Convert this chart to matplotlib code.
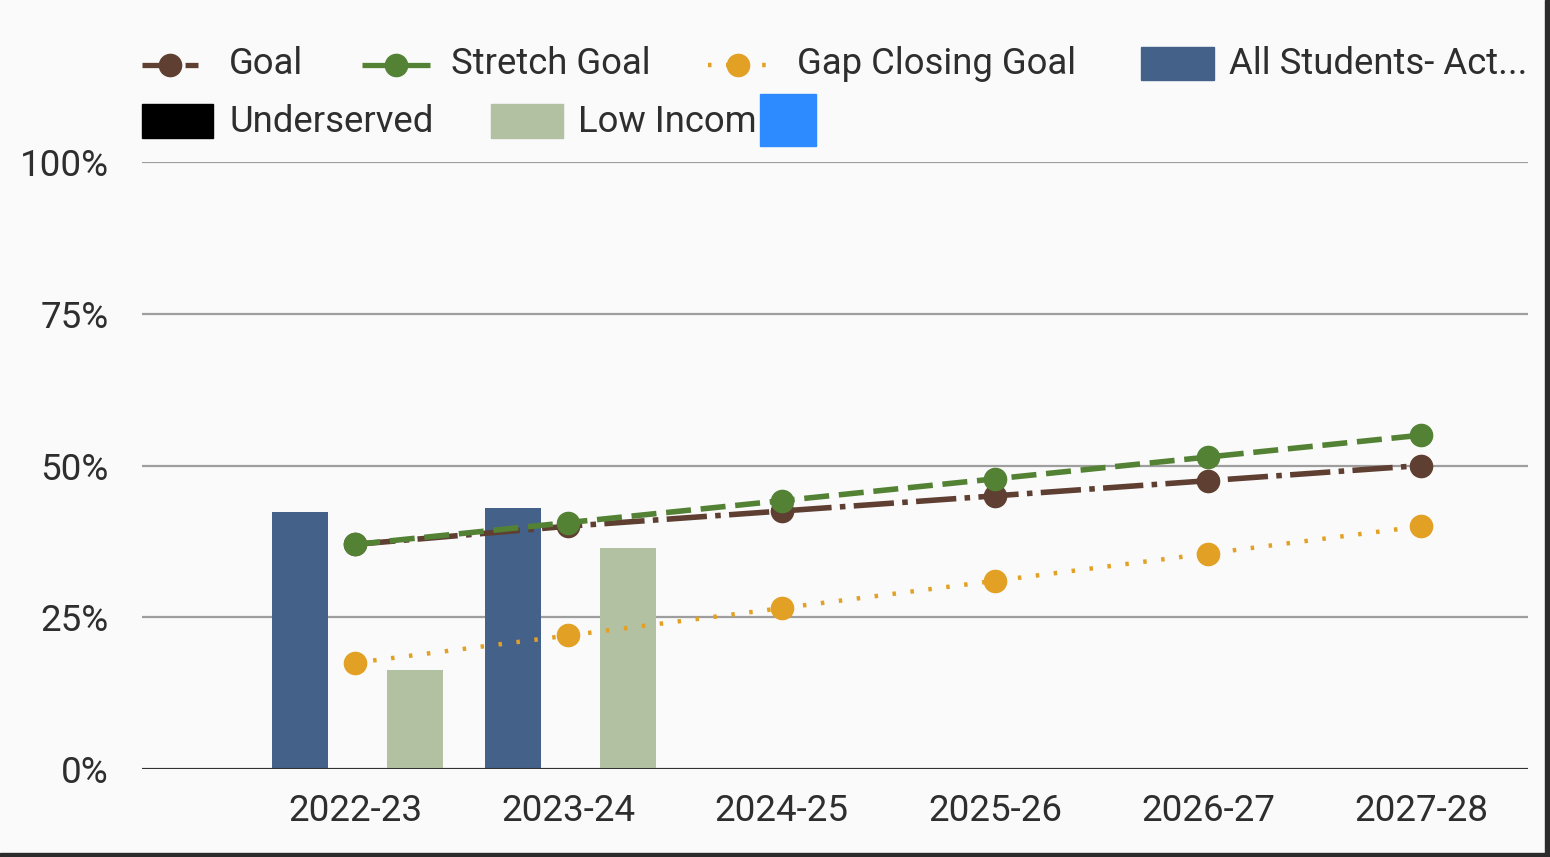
import matplotlib
matplotlib.use("Agg")
import matplotlib.pyplot as plt
from matplotlib.lines import Line2D
from matplotlib.patches import Rectangle
import numpy as np

plt.rcParams['font.family'] = ['Roboto', 'DejaVu Sans']
plt.rcParams['lines.scale_dashes'] = False

# ---- data ----
years = ["2022-23", "2023-24", "2024-25", "2025-26", "2026-27", "2027-28"]
goal = [37.0, 40.0, 42.5, 45.0, 47.5, 50.0]
stretch_goal = [37.0, 40.6, 44.2, 47.8, 51.4, 55.0]
gap_closing_goal = [17.5, 22.0, 26.5, 31.0, 35.5, 40.0]
all_students = [42.3, 43.0, np.nan, np.nan, np.nan, np.nan]
underserved = [np.nan, np.nan, np.nan, np.nan, np.nan, np.nan]
low_income = [16.3, 36.4, np.nan, np.nan, np.nan, np.nan]
y_ticks = [0, 25, 50, 75, 100]
y_labels = ["0%", "25%", "50%", "75%", "100%"]

C_GOAL = "#5e3f31"
C_STRETCH = "#548235"
C_GAP = "#e2a124"
C_ALL = "#44618a"
C_UNDER = "#000000"
C_LOW = "#b2c1a2"
C_BLUE = "#2e8bff"
BG = "#fafafa"
TXT = "#2e2e2e"

W, H = 1550, 857
fig = plt.figure(figsize=(W / 100, H / 100), dpi=100, facecolor=BG)

def fx(px):
    return px / W

def fy(py):
    return 1 - py / H

ax = fig.add_axes([fx(142), fy(769), fx(1528) - fx(142), fy(162) - fy(769)])
ax.set_facecolor(BG)

x = np.arange(len(years))
bw = 0.26
ax.bar(x - 0.26, all_students, width=bw, color=C_ALL, zorder=2)
ax.bar(x, underserved, width=bw, color=C_UNDER, zorder=2)
ax.bar(x + 0.28, low_income, width=bw, color=C_LOW, zorder=2)

ms = 16
ax.plot(x, goal, color=C_GOAL, lw=4.0, dashes=(29, 6, 4, 6), marker='o',
        markersize=ms, zorder=4)
ax.plot(x, stretch_goal, color=C_STRETCH, lw=4.0, dashes=(18, 7), marker='o',
        markersize=ms, zorder=5)
ax.plot(x, gap_closing_goal, color=C_GAP, lw=3.2, dashes=(2.5, 10.5), marker='o',
        markersize=ms, zorder=3)

ax.set_xlim(-1, 5.5)
ax.set_ylim(0, 100)
ax.set_yticks(y_ticks)
ax.set_yticklabels(y_labels)
ax.set_xticks(x)
ax.set_xticklabels(years)
for s in ax.spines.values():
    s.set_visible(False)
ax.tick_params(axis='both', length=0, labelsize=26.5, colors=TXT)
ax.tick_params(axis='x', pad=17)
ax.tick_params(axis='y', pad=24)
ax.yaxis.grid(True, color="#9e9e9e", lw=1.6, zorder=0)
ax.set_axisbelow(True)
ax.axhline(0, color="#333333", lw=2.2, zorder=6)

# ---- legend (manual flow layout) ----
fs = 26.3
ty1, ty2 = 64, 122

def line_handle(x0, x1, y, color, dashes, lw):
    fig.add_artist(Line2D([fx(x0), fx(x1)], [fy(y), fy(y)], color=color, lw=lw,
                          dashes=dashes, transform=fig.transFigure))
    fig.add_artist(Line2D([fx((x0 + x1) / 2)], [fy(y)], color=color, marker='o',
                          markersize=ms, transform=fig.transFigure))

def rect_handle(x0, x1, y0, y1, color):
    fig.add_artist(Rectangle((fx(x0), fy(y1)), fx(x1) - fx(x0), fy(y0) - fy(y1),
                             color=color, transform=fig.transFigure))

line_handle(142, 198, 65, C_GOAL, (20, 4, 3, 4), 3.8)
fig.text(fx(229), fy(ty1), "Goal", fontsize=fs, color=TXT, va='center')
line_handle(362, 430, 65, C_STRETCH, (30, 1), 3.8)
fig.text(fx(451), fy(ty1), "Stretch Goal", fontsize=fs, color=TXT, va='center')
line_handle(708, 768, 65, C_GAP, (2.5, 10.5), 3.2)
fig.text(fx(797), fy(ty1), "Gap Closing Goal", fontsize=fs, color=TXT, va='center')
rect_handle(1141, 1214, 47, 80, C_ALL)
fig.text(fx(1229), fy(ty1), "All Students- Act...", fontsize=fs, color=TXT, va='center')

rect_handle(142, 213, 104, 138, C_UNDER)
fig.text(fx(229), fy(ty2), "Underserved", fontsize=fs, color=TXT, va='center')
rect_handle(491, 563, 104, 138, C_LOW)
fig.text(fx(578), fy(ty2), "Low Incom", fontsize=fs, color=TXT, va='center')
rect_handle(760, 816, 94, 146, C_BLUE)

# screenshot border (right and bottom)
fig.add_artist(Rectangle((fx(1545), 0), fx(5), 1, color="#2b2b2b", transform=fig.transFigure))
fig.add_artist(Rectangle((0, 0), 1, 4 / H, color="#2b2b2b", transform=fig.transFigure))

fig.savefig("out.png", dpi=100, facecolor=BG)
